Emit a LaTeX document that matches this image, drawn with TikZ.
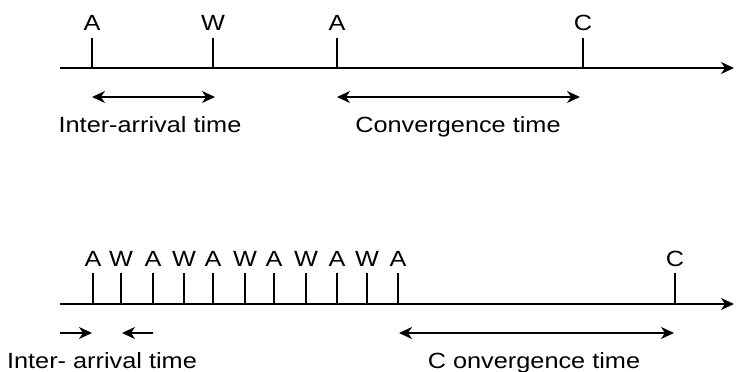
\documentclass[tikz,border=0pt]{standalone}
\usepackage{fontspec}
\setmainfont{Liberation Sans}[FakeStretch=1.15]
\usetikzlibrary{arrows.meta}
\begin{document}
\begin{tikzpicture}[x=1pt,y=-1pt,
  tip/.style={},
  axisline/.style={line width=2pt,-{Stealth[length=13pt,width=12pt,inset=4pt]}},
  tickline/.style={line width=2pt},
  spanarrow/.style={line width=2pt,{Stealth[length=13pt,width=12pt,inset=4pt]}-{Stealth[length=13pt,width=12pt,inset=4pt]}},
  halfarrow/.style={line width=2pt,-{Stealth[length=13pt,width=12pt,inset=4pt]}},
  ticklabel/.style={anchor=base,inner sep=0pt,font=\fontsize{22}{24}\selectfont},
  caption/.style={anchor=base,inner sep=0pt,font=\fontsize{22}{24}\selectfont}]
\useasboundingbox (0,0) rectangle (736,372);
% ---- top timeline ----
\coordinate (t0) at (60,68);
\coordinate (tend) at (734,68);
\draw[axisline] (t0) -- (tend);
\foreach \n/\x/\l in {1/92/A,2/213/W,3/337/A,4/583/C}{
  \coordinate (tb\n) at (\x,68);
  \coordinate (tt\n) at (\x,38);
  \draw[tickline] (tb\n) -- (tt\n);
  \node[ticklabel] (tl\n) at (\x,30) {\l};
}
\coordinate (ta1) at (92,97);
\coordinate (ta2) at (215,97);
\coordinate (ta3) at (337,97);
\coordinate (ta4) at (580,97);
\draw[spanarrow] (ta1) -- (ta2);
\draw[spanarrow] (ta3) -- (ta4);
\node[caption] (tc1) at (150,132) {Inter-arrival time};
\node[caption] (tc2) at (458,132) {Convergence time};
% ---- bottom timeline ----
\coordinate (b0) at (60,304);
\coordinate (bend) at (734,304);
\draw[axisline] (b0) -- (bend);
\foreach \n/\x/\l in {1/93/A,2/121/W,3/153/A,4/184/W,5/213/A,6/245/W,7/274/A,8/306/W,9/337/A,10/367/W,11/398/A,12/675/C}{
  \coordinate (bb\n) at (\x,304);
  \coordinate (bt\n) at (\x,273);
  \draw[tickline] (bb\n) -- (bt\n);
  \node[ticklabel] (bl\n) at (\x,266) {\l};
}
\coordinate (ba1) at (60,333);
\coordinate (ba2) at (92,333);
\coordinate (ba3) at (153,333);
\coordinate (ba4) at (122,333);
\coordinate (ba5) at (399,333);
\coordinate (ba6) at (674,333);
\draw[halfarrow] (ba1) -- (ba2);
\draw[halfarrow] (ba3) -- (ba4);
\draw[spanarrow] (ba5) -- (ba6);
\node[caption] (bc1) at (102,368) {Inter- arrival time};
\node[caption] (bc2) at (534,368) {C onvergence time};
\end{tikzpicture}
\end{document}
